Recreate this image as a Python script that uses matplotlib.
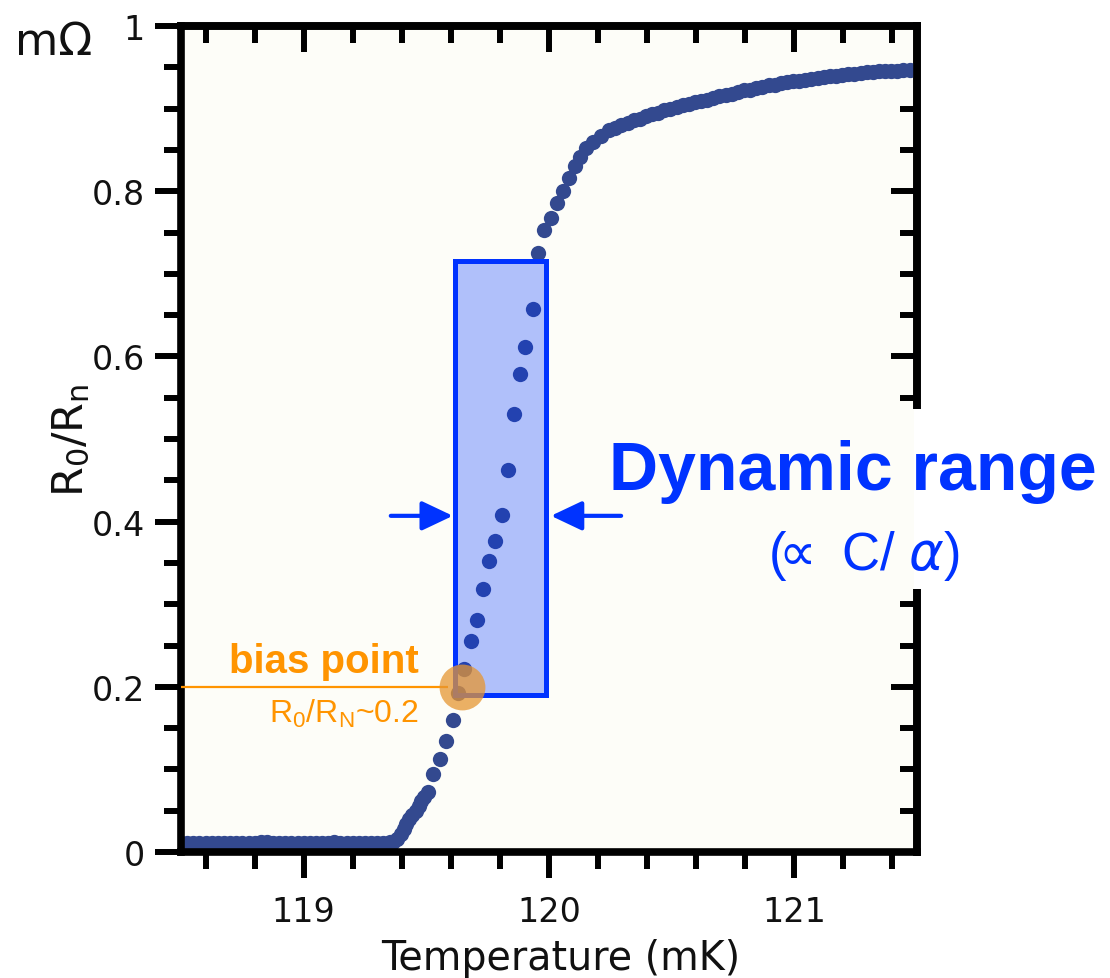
import matplotlib
matplotlib.use("Agg")
import matplotlib.pyplot as plt
from matplotlib.patches import Rectangle
from matplotlib.ticker import MultipleLocator

# data (temperature in mK, R0/Rn)
temp_flat = [118.500, 118.525, 118.550, 118.575, 118.600, 118.625, 118.650, 118.675,
             118.700, 118.725, 118.750, 118.775, 118.800, 118.825, 118.850, 118.875,
             118.900, 118.925, 118.950, 118.975, 119.000, 119.025, 119.050, 119.075,
             119.100, 119.125, 119.150, 119.175, 119.200, 119.225, 119.250, 119.275,
             119.300, 119.325, 119.350]
r_flat = [0.011, 0.011, 0.011, 0.011, 0.011, 0.011, 0.011, 0.011,
          0.011, 0.011, 0.011, 0.011, 0.011, 0.012, 0.012, 0.011,
          0.011, 0.011, 0.011, 0.011, 0.011, 0.011, 0.011, 0.011,
          0.011, 0.012, 0.011, 0.011, 0.011, 0.011, 0.011, 0.011,
          0.011, 0.011, 0.012]

temp_rise = [119.365, 119.382, 119.395, 119.407, 119.418, 119.430, 119.443, 119.457,
             119.468, 119.480, 119.492, 119.505, 119.529, 119.557, 119.580, 119.607,
             119.630, 119.654, 119.680, 119.706, 119.731, 119.756, 119.781, 119.807,
             119.831, 119.857, 119.883, 119.903, 119.933, 119.957, 119.981, 120.008,
             120.031, 120.056, 120.083, 120.104, 120.128, 120.151, 120.178, 120.212,
             120.246, 120.270, 120.294]
r_rise = [0.012, 0.016, 0.022, 0.028, 0.034, 0.040, 0.045, 0.050,
          0.056, 0.062, 0.067, 0.073, 0.095, 0.112, 0.134, 0.160,
          0.193, 0.222, 0.255, 0.281, 0.318, 0.352, 0.376, 0.408,
          0.463, 0.530, 0.579, 0.611, 0.657, 0.725, 0.753, 0.768,
          0.786, 0.800, 0.816, 0.830, 0.842, 0.852, 0.860, 0.867,
          0.874, 0.877, 0.880]

temp_top = [120.320, 120.345, 120.370, 120.395, 120.420, 120.445, 120.470, 120.495,
            120.520, 120.545, 120.570, 120.595, 120.620, 120.645, 120.670, 120.695,
            120.720, 120.745, 120.770, 120.795, 120.820, 120.845, 120.870, 120.895,
            120.920, 120.945, 120.970, 120.995, 121.020, 121.045, 121.070, 121.095,
            121.120, 121.145, 121.170, 121.195, 121.220, 121.245, 121.270, 121.295,
            121.320, 121.345, 121.370, 121.395, 121.420, 121.445, 121.470, 121.495]
r_top = [0.883, 0.886, 0.888, 0.891, 0.893, 0.895, 0.898, 0.900,
         0.902, 0.904, 0.906, 0.908, 0.909, 0.911, 0.913, 0.915,
         0.917, 0.918, 0.920, 0.922, 0.923, 0.925, 0.926, 0.928,
         0.929, 0.931, 0.932, 0.933, 0.934, 0.935, 0.936, 0.937,
         0.938, 0.939, 0.940, 0.941, 0.942, 0.942, 0.943, 0.944,
         0.944, 0.945, 0.945, 0.946, 0.946, 0.947, 0.947, 0.947]

# dynamic range window and bias point
window_T = [119.616, 119.986]
window_R = [0.190, 0.716]
bias_T = 119.645
bias_R = 0.2

x_ticks = [119, 120, 121]
y_ticks = [0, 0.2, 0.4, 0.6, 0.8, 1.0]
y_ticklabels = ['0', '0.2', '0.4', '0.6', '0.8', '1']

plt.rcParams['font.family'] = ['DejaVu Sans']

BLUE = '#0033ff'
ORANGE = '#ff9400'
DOT = '#33498f'
FACE = '#fdfdf8'

fig = plt.figure(figsize=(11.1, 9.79), dpi=100)
ax = fig.add_axes([0.1631, 0.1287, 0.663, 0.8437])
ax.set_facecolor(FACE)

ax.plot(temp_flat + temp_rise + temp_top, r_flat + r_rise + r_top, 'o',
        color=DOT, ms=11, mew=0, zorder=2)

# dynamic range box
ax.add_patch(Rectangle((window_T[0], window_R[0]), window_T[1] - window_T[0],
                       window_R[1] - window_R[0], facecolor=(0, 0.2, 1, 0.3),
                       edgecolor=BLUE, lw=3.6, zorder=3))

# arrows pointing at the box
arrow_y = 0.407
ap = dict(arrowstyle='-|>,head_length=0.95,head_width=0.45', color=BLUE, lw=3,
          mutation_scale=20, shrinkA=0, shrinkB=0)
ax.annotate('', xy=(119.608, arrow_y), xytext=(119.355, arrow_y), arrowprops=ap, zorder=6)
ax.annotate('', xy=(120.008, arrow_y), xytext=(120.294, arrow_y), arrowprops=ap, zorder=6)

# bias point
ax.hlines(bias_R, 118.5, 119.59, color=ORANGE, lw=1.6, zorder=4)
ax.plot([bias_T], [bias_R], 'o', ms=33, mew=0, color='#e69632', alpha=0.75, zorder=5)
ax.text(119.469, 0.218, 'bias point', color=ORANGE, fontsize=29, fontweight='bold',
        family='Liberation Sans', ha='right', va='baseline')
ax.text(119.469, 0.158, r'R$_\mathregular{0}$/R$_\mathregular{N}$~0.2', color=ORANGE,
        fontsize=23, family='Liberation Sans', ha='right', va='baseline')

ax.set_xlim(118.5, 121.5)
ax.set_ylim(0, 1)
ax.set_xticks(x_ticks)
ax.set_yticks(y_ticks)
ax.set_yticklabels(y_ticklabels)
ax.xaxis.set_minor_locator(MultipleLocator(0.2))
ax.yaxis.set_minor_locator(MultipleLocator(0.05))

for sp in ax.spines.values():
    sp.set_linewidth(5.5)
ax.tick_params(which='both', direction='out', width=4.3, colors='black',
               labelcolor='#111111', labelsize=24)
ax.tick_params(which='major', length=19)
ax.tick_params(which='minor', length=12)
ax.tick_params(axis='x', pad=12)
ax.tick_params(axis='y', pad=7)

# mirrored ticks pointing inward on top and right
sx = ax.secondary_xaxis('top')
sx.set_xticks(x_ticks)
sx.xaxis.set_minor_locator(MultipleLocator(0.2))
sx.tick_params(which='both', direction='in', width=4.3, labeltop=False)
sx.tick_params(which='major', length=19)
sx.tick_params(which='minor', length=12)
sx.spines['top'].set_linewidth(5.5)
sy = ax.secondary_yaxis('right')
sy.set_yticks(y_ticks)
sy.yaxis.set_minor_locator(MultipleLocator(0.05))
sy.tick_params(which='both', direction='in', width=4.3, labelright=False)
sy.tick_params(which='major', length=19)
sy.tick_params(which='minor', length=12)
sy.spines['right'].set_linewidth(5.5)

ax.set_xlabel('Temperature (mK)', fontsize=28.5, color='#111111')
ax.xaxis.set_label_coords(0.516, -0.104)
ax.set_ylabel(r'R$_\mathregular{0}$/R$_\mathregular{n}$', fontsize=31, color='#111111')
ax.yaxis.set_label_coords(-0.121, 0.5)

fig.text(15 / 1110, 1 - 55 / 979, 'mΩ', fontsize=32, color='#111111', va='baseline')

# patches hiding part of the right spine behind the label
fig.add_artist(Rectangle((884 / 1110, 1 - 590 / 979), 30 / 1110, 180 / 979,
                         transform=fig.transFigure, facecolor=FACE,
                         edgecolor='none', zorder=3))
fig.add_artist(Rectangle((914 / 1110, 1 - 590 / 979), 30 / 1110, 180 / 979,
                         transform=fig.transFigure, facecolor='white',
                         edgecolor='none', zorder=3))
fig.text(853 / 1110, 1 - 490 / 979, 'Dynamic range', fontsize=49, fontweight='bold',
         color=BLUE, family='Liberation Sans', ha='center', va='baseline', zorder=4)
fig.text(864 / 1110, 1 - 570 / 979, r'($\!\!\propto$ C/ $\alpha$)', fontsize=38,
         color=BLUE, family='Liberation Sans', ha='center', va='baseline', zorder=4)

fig.savefig('out.png', dpi=100)
